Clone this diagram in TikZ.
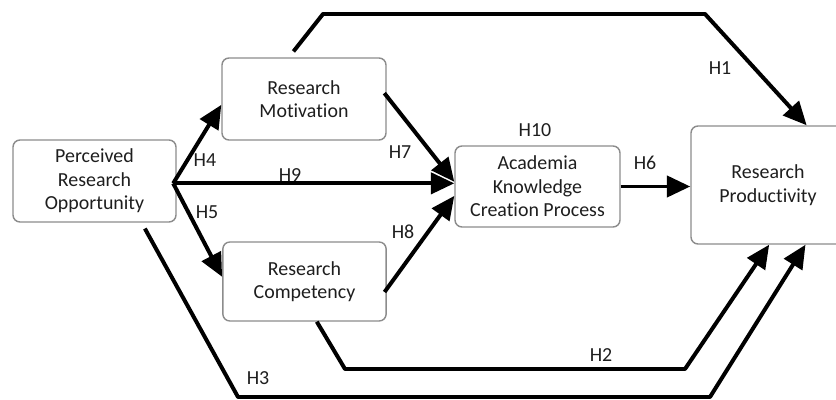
\documentclass[tikz,border=0pt]{standalone}
\usepackage{fontspec}
\setmainfont{Carlito}[Ligatures=NoCommon]
\usetikzlibrary{arrows.meta}
\definecolor{boxline}{HTML}{8C8C8C}
\definecolor{txt}{HTML}{1E1E1E}
\begin{document}
\begin{tikzpicture}[x=0.03cm, y=-0.03cm, line join=round,
  font=\fontsize{17}{20}\selectfont, text=txt,
  box/.style={draw=boxline, line width=1.2pt, rounded corners=6pt, fill=white, align=center, inner sep=0pt},
  hyp/.style={line width=3.4pt, -{Triangle[length=20pt,width=18pt]}},
  lbl/.style={inner sep=1pt}]
\useasboundingbox (0,0) rectangle (836,400);
\node[box, minimum width=4.89cm, minimum height=2.46cm] (pro) at (94.5,181) {Perceived\\Research\\Opportunity};
\node[box, minimum width=4.92cm, minimum height=2.46cm] (rm) at (304,99) {Research\\Motivation};
\node[box, minimum width=4.9cm, minimum height=2.37cm] (rc) at (304.5,281.5) {Research\\Competency};
\node[box, minimum width=4.95cm, minimum height=2.43cm] (akcp) at (537.5,186.5) {Academia\\Knowledge\\Creation Process};
\node[box, minimum width=4.62cm, minimum height=3.54cm] (rp) at (768,185) {Research\\Productivity};
\path ([xshift=-3pt,yshift=-2pt]pro.east) coordinate (br)
(323,14) coordinate (h1a)
(705,14) coordinate (h1b)
(345,369) coordinate (h2a)
(685,369) coordinate (h2b)
(238,397) coordinate (h3a)
(710,397) coordinate (h3b);
\draw[hyp] ([xshift=-9pt,yshift=5pt]rm.north)--(h1a)--(h1b)--([xshift=33pt]rp.north);
\draw[hyp] ([xshift=10.5pt]rc.south)--(h2a)--(h2b)--([xshift=1pt]rp.south);
\draw[hyp] ([xshift=43pt,yshift=-5pt]pro.south)--(h3a)--(h3b)--([xshift=32pt]rp.south);
\draw[hyp] (br)--([yshift=-5pt]rm.west);
\draw[hyp] (br)--([yshift=4pt]rc.west);
\draw[hyp] (br)--(br -| akcp.west);
\draw[hyp] ([xshift=-2pt,yshift=5pt]rm.east)--([yshift=4pt]akcp.west);
\draw[hyp] ([xshift=-2pt,yshift=-9pt]rc.east)--([yshift=-8pt]akcp.west);
\draw[hyp] (akcp.east)--(akcp.east -| rp.west);
\node[lbl] (l1) at (720,68) {H1};
\node[lbl] (l2) at (601,355) {H2};
\node[lbl] (l3) at (258,378) {H3};
\node[lbl] (l4) at (205,160) {H4};
\node[lbl] (l5) at (207,212) {H5};
\node[lbl] (l6) at (645,163) {H6};
\node[lbl] (l7) at (400,152) {H7};
\node[lbl] (l8) at (403,232) {H8};
\node[lbl] (l9) at (290,175) {H9};
\node[lbl] (l10) at (535,130) {H10};
\end{tikzpicture}
\end{document}
